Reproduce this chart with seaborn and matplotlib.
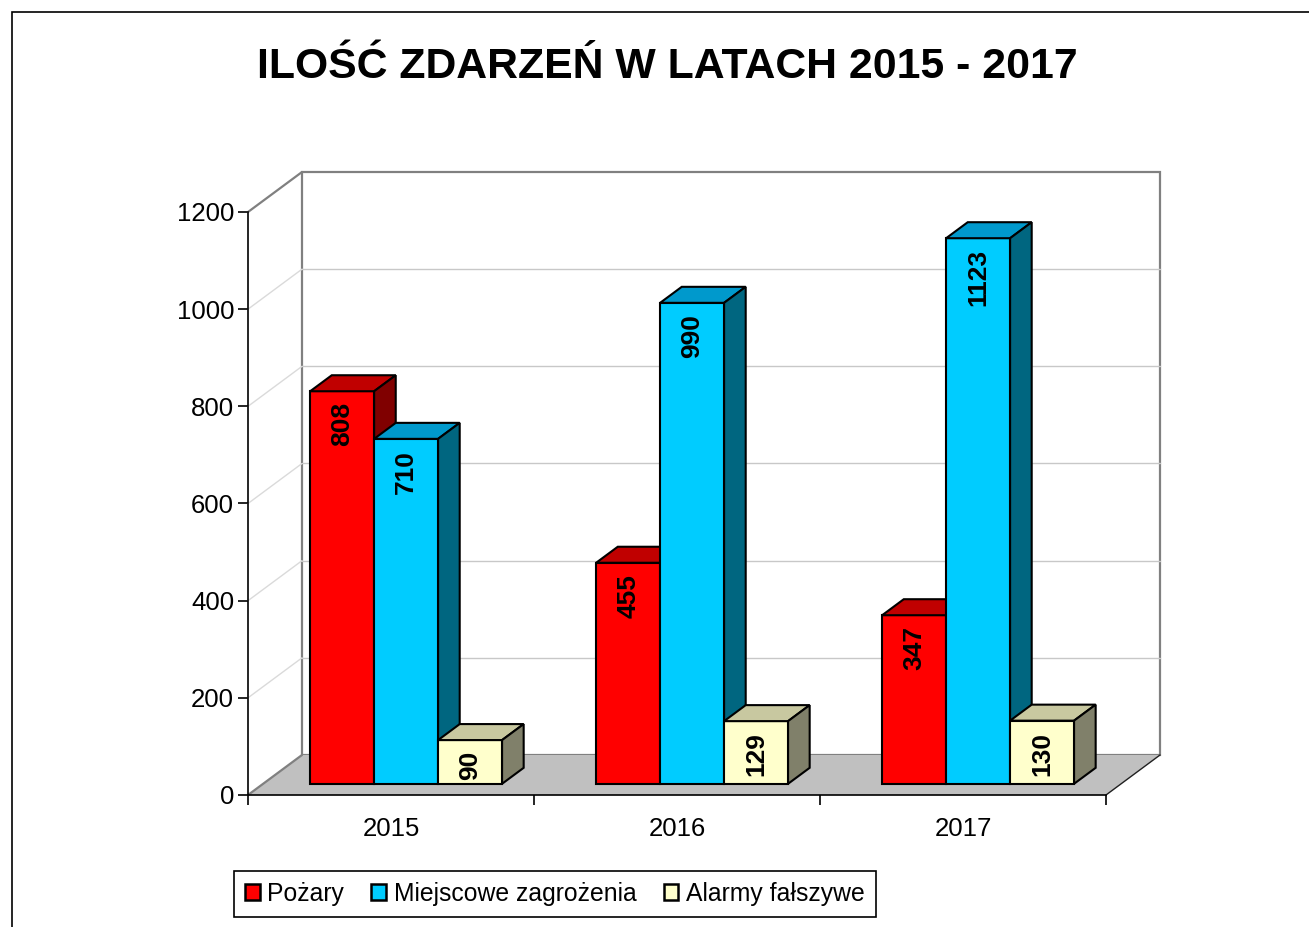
import matplotlib
matplotlib.use("Agg")
import matplotlib.pyplot as plt
from matplotlib.patches import Polygon, Rectangle, Patch
import numpy as np
import pandas as pd
import seaborn as sns

years = ["2015", "2016", "2017"]
series = ["Pożary", "Miejscowe zagrożenia", "Alarmy fałszywe"]
pozary = [808, 455, 347]
miejscowe = [710, 990, 1123]
alarmy = [90, 129, 130]
y_ticks = [0, 200, 400, 600, 800, 1000, 1200]

front_colors = ["#FF0000", "#00CCFF", "#FFFFCC"]
top_colors = ["#C00000", "#0099CC", "#C8C8A0"]
side_colors = ["#800000", "#006680", "#80806A"]

df = pd.DataFrame({
    "Rok": years * 3,
    "Rodzaj": np.repeat(series, len(years)),
    "Ilość": pozary + miejscowe + alarmy,
})

W, H = 1309, 927
PX_Y = 583 / 1200   # pixels per value unit
PX_X = 286          # pixels per category
WALL = np.array([54 / PX_X, 40 / PX_Y])   # depth of the box
BAR_FRONT = WALL * 0.28
BAR_DEPTH = WALL * 0.40
YMAX = y_ticks[-1]

sns.set_theme(style="white")
plt.rcParams["font.family"] = ["Liberation Sans", "DejaVu Sans"]
plt.rcParams["text.color"] = "black"

fig = plt.figure(figsize=(W / 100, H / 100), dpi=100)
ax = fig.add_axes([248 / W, 1 - 795 / H, (1159 - 248) / W, (795 - 172) / H])

sns.barplot(data=df, x="Rok", y="Ilość", hue="Rodzaj", palette=front_colors,
            width=0.671, saturation=1, edgecolor="black", linewidth=1.5,
            legend=False, ax=ax)

x_lo, x_hi = -0.5, len(years) - 0.5
wx, wy = WALL

# back wall and floor
ax.add_patch(Rectangle((x_lo + wx, wy), x_hi - x_lo, YMAX, facecolor="white",
                       edgecolor="#808080", lw=1.6, zorder=0.5, clip_on=False))
for v in y_ticks[1:-1]:
    ax.plot([x_lo + wx, x_hi + wx], [v + wy, v + wy], color="#C8C8C8", lw=1, zorder=1, clip_on=False)
    ax.plot([x_lo, x_lo + wx], [v, v + wy], color="#DADADA", lw=1, zorder=1, clip_on=False)
ax.add_patch(Polygon([(x_lo, 0), (x_hi, 0), (x_hi + wx, wy), (x_lo + wx, wy)],
                     closed=True, facecolor="#C0C0C0", edgecolor="none", zorder=1.5, clip_on=False))
ax.plot([x_lo, x_lo + wx], [0, wy], color="#808080", lw=1.6, zorder=2, clip_on=False)
ax.plot([x_hi, x_hi + wx], [0, wy], color="#202020", lw=1, zorder=2, clip_on=False)
ax.plot([x_lo, x_lo + wx], [YMAX, YMAX + wy], color="#808080", lw=1.6, zorder=2, clip_on=False)

# 3d faces
dx, dy = BAR_DEPTH
for k, cont in enumerate(ax.containers):
    for bar in cont:
        bar.set_x(bar.get_x() + BAR_FRONT[0])
        bar.set_y(BAR_FRONT[1])
        bar.set_zorder(3 + k)
        bar.set_clip_on(False)
        x0, y0 = bar.get_x(), bar.get_y()
        w, h = bar.get_width(), bar.get_height()
        x1, y1 = x0 + w, y0 + h
        ax.add_patch(Polygon([(x0, y1), (x1, y1), (x1 + dx, y1 + dy), (x0 + dx, y1 + dy)],
                             closed=True, facecolor=top_colors[k], edgecolor="black",
                             lw=1.5, zorder=3 + k, clip_on=False))
        ax.add_patch(Polygon([(x1, y0), (x1 + dx, y0 + dy), (x1 + dx, y1 + dy), (x1, y1)],
                             closed=True, facecolor=side_colors[k], edgecolor="black",
                             lw=1.5, zorder=3 + k, clip_on=False))
        ax.annotate(f"{h:.0f}", (x0 + w / 2, y1), xytext=(0, -8), textcoords="offset points",
                    rotation=90, ha="center", va="top", fontsize=19, fontweight="bold",
                    color="black", zorder=3.5 + k)

ax.set_xlim(x_lo, x_lo + (1159 - 248) / PX_X)
ax.set_ylim(0, (795 - 172) / PX_Y)
ax.set_xlabel("")
ax.set_ylabel("")
ax.set_yticks(y_ticks)
ax.set_xticks(range(len(years)), years)
ax.set_xticks([x_lo + i for i in range(len(years) + 1)], minor=True)

for s in ["top", "right"]:
    ax.spines[s].set_visible(False)
ax.spines["left"].set_bounds(0, YMAX)
ax.spines["bottom"].set_bounds(x_lo, x_hi)
for s in ["left", "bottom"]:
    ax.spines[s].set_color("black")
    ax.spines[s].set_linewidth(1.2)
    ax.spines[s].set_zorder(2.5)

ax.tick_params(axis="y", left=True, direction="out", length=7, width=1.2, pad=3,
               labelsize=18.5, colors="black")
ax.tick_params(axis="x", which="major", bottom=True, length=0, pad=16,
               labelsize=18.5, colors="black")
ax.tick_params(axis="x", which="minor", bottom=True, direction="out", length=7,
               width=1.2, colors="black")

fig.text(667 / W, 1 - 67 / H, "ILOŚĆ ZDARZEŃ W LATACH 2015 - 2017", ha="center", va="center",
         fontsize=30.8, fontweight="bold", color="black")

handles = [Patch(facecolor=c, edgecolor="black", lw=1.8) for c in front_colors]
leg = fig.legend(handles, series, loc="lower left", bbox_to_anchor=(234 / W, 1 - 917 / H),
                 ncol=3, fontsize=17.8, frameon=True, fancybox=False, edgecolor="black",
                 framealpha=1, handlelength=0.6, handleheight=0.6, handletextpad=0.3,
                 columnspacing=1.1, borderpad=0.45, borderaxespad=0, labelcolor="black")
leg.get_frame().set_linewidth(1.2)

fig.patches.append(Rectangle((12 / W, -0.1), 1.2, 1.1 - 12 / H, transform=fig.transFigure,
                             fill=False, edgecolor="black", lw=1.2))

fig.savefig("out.png", dpi=100, facecolor="white")
